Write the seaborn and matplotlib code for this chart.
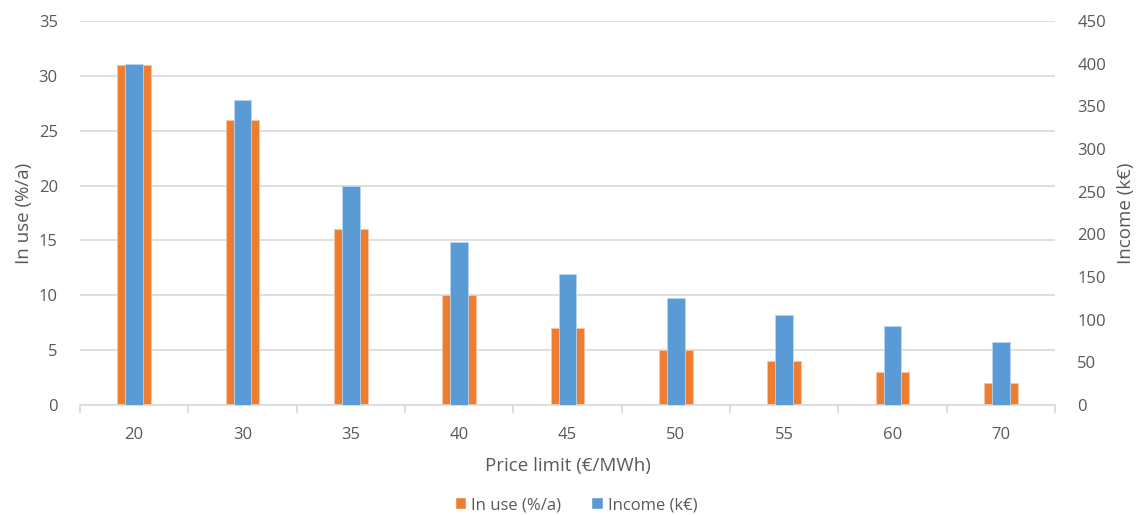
import matplotlib
matplotlib.use("Agg")
import matplotlib.pyplot as plt
from matplotlib.patches import Patch
from matplotlib.ticker import MultipleLocator, FixedLocator
import seaborn as sns
import pandas as pd

price_limits = ["20", "30", "35", "40", "45", "50", "55", "60", "70"]
in_use_pct = [31, 26, 16, 10, 7, 5, 4, 3, 2]
income_keur = [400, 357, 257, 191, 153, 125, 105, 93, 74]

ORANGE = "#ED7D31"
BLUE = "#5B9BD5"
TEXT = "#595959"
GRID = "#D9D9D9"

sns.set_theme(style="white")
plt.rcParams["font.family"] = ["Open Sans", "DejaVu Sans"]

df = pd.DataFrame({"price": price_limits, "in_use": in_use_pct, "income": income_keur})

fig = plt.figure(figsize=(11.47, 5.15), dpi=100)
ax = fig.add_axes([80 / 1147, 1 - 405 / 515, 975 / 1147, 384 / 515])
ax2 = ax.twinx()

sns.barplot(data=df, x="price", y="in_use", order=price_limits, color=ORANGE,
            width=0.31, saturation=1, ax=ax, edgecolor="#F6C7A6", linewidth=0.6, zorder=2)
sns.barplot(data=df, x="price", y="income", order=price_limits, color=BLUE,
            width=0.165, saturation=1, ax=ax2, edgecolor="#BBD5EE", linewidth=0.6, zorder=3)

for a in (ax, ax2):
    a.set_xlim(-0.5, len(price_limits) - 0.5)
    for s in a.spines.values():
        s.set_visible(False)

ax.set_ylim(0, 35)
ax.yaxis.set_major_locator(MultipleLocator(5))
ax2.set_ylim(0, 450)
ax2.yaxis.set_major_locator(MultipleLocator(50))

ax.yaxis.grid(True, color=GRID, linewidth=1.2)
ax.set_axisbelow(True)
ax.spines["bottom"].set_visible(True)
ax.spines["bottom"].set_color(GRID)
ax.spines["bottom"].set_linewidth(1.2)

ax.xaxis.set_minor_locator(FixedLocator([i - 0.5 for i in range(len(price_limits) + 1)]))
ax.tick_params(axis="x", which="major", length=0, pad=16, labelsize=12, labelcolor=TEXT)
ax.tick_params(axis="x", which="minor", length=6, width=1.2, color=GRID, bottom=True)
ax.tick_params(axis="y", length=0, pad=16, labelsize=12, labelcolor=TEXT)
ax2.tick_params(axis="y", length=0, pad=16, labelsize=12, labelcolor=TEXT)
ax2.grid(False)

ax.set_xlabel("Price limit (€/MWh)", fontsize=13.5, color=TEXT, labelpad=10)
ax.set_ylabel("In use (%/a)", fontsize=13.5, color=TEXT, labelpad=4)
ax2.set_ylabel("Income (k€)", fontsize=13.5, color=TEXT, labelpad=8)

handles = [Patch(facecolor=ORANGE, label="In use (%/a)"),
           Patch(facecolor=BLUE, label="Income (k€)")]
fig.legend(handles=handles, loc="center", bbox_to_anchor=(576 / 1147, 1 - 505 / 515),
           ncol=2, frameon=False, fontsize=12, labelcolor=TEXT,
           handlelength=0.7, handleheight=0.7, handletextpad=0.3, columnspacing=1.8)

fig.savefig("out.png", dpi=100)
